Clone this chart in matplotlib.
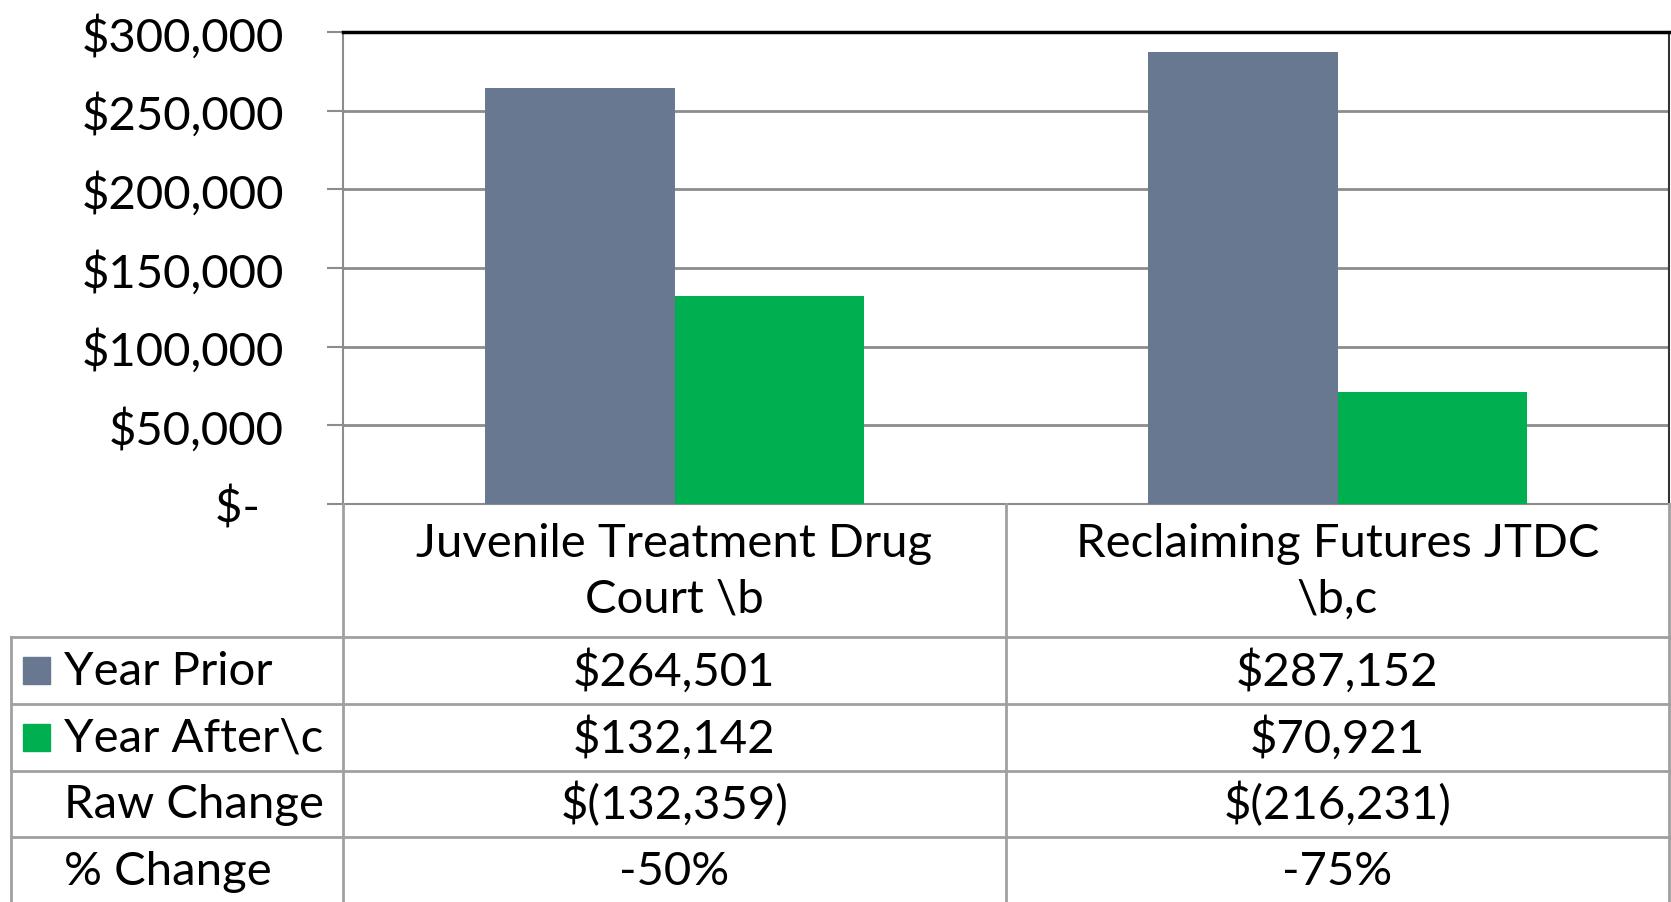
import matplotlib
matplotlib.use('Agg')
import matplotlib.pyplot as plt
from matplotlib.patches import Rectangle
from matplotlib.ticker import FuncFormatter, MultipleLocator

# data
categories = ['Juvenile Treatment Drug\nCourt \\b', 'Reclaiming Futures JTDC\n\\b,c']
series_names = ['Year Prior', 'Year After\\c']
year_prior = [264501, 287152]
year_after = [132142, 70921]
raw_change = [-132359, -216231]
pct_change = [-0.50, -0.75]
extra_rows = ['Raw Change', '% Change']

colors = ['#687890', '#00B050']
grid_color = '#8C8C8C'
table_color = '#A0A0A0'

plt.rcParams['font.family'] = ['Lato', 'DejaVu Sans']
FS = 34

W, H = 1671, 903
fig = plt.figure(figsize=(W / 100, H / 100), dpi=100)

# plot area in pixels: left 343, right 1669, top 33, bottom 505
ax = fig.add_axes([343 / W, 1 - 505 / H, (1669 - 343) / W, (505 - 33) / H])
bw = 1 / 3.5  # gap width 150%
xs = range(len(categories))
ax.bar([x - bw / 2 for x in xs], year_prior, bw, color=colors[0], zorder=3)
ax.bar([x + bw / 2 for x in xs], year_after, bw, color=colors[1], zorder=3)
ax.set_xlim(-0.5, len(categories) - 0.5)
ax.set_ylim(0, 300000)
ax.yaxis.set_major_locator(MultipleLocator(50000))
ax.yaxis.set_major_formatter(FuncFormatter(
    lambda v, p: '$-  ' if v == 0 else f'${v:,.0f}'))
ax.set_xticks([])
ax.grid(axis='y', color=grid_color, linewidth=2, zorder=0)
ax.tick_params(axis='y', labelsize=FS, length=11.5, width=1.5,
               color=grid_color, pad=31)
for s in ['left', 'bottom']:
    ax.spines[s].set_color(grid_color)
    ax.spines[s].set_linewidth(1.5)
ax.spines['top'].set_color('black')
ax.spines['top'].set_linewidth(2.5)
ax.spines['right'].set_color('#333333')
ax.spines['right'].set_linewidth(1.5)

# data table below the plot, x shares the category scale
at = fig.add_axes([11 / W, 1 - 905 / H, (1669 - 11) / W, 400 / H])
at.set_xlim(-1, len(categories) - 0.5)
at.set_ylim(6, 0)
at.axis('off')

lw = 2
for y in [2, 3, 4, 5]:
    at.plot([-1, len(categories) - 0.5], [y, y], color=table_color, lw=lw, clip_on=False)
for x in [-0.5, 0.5, 1.5]:
    at.plot([x, x], [0, 6], color=table_color, lw=lw, clip_on=False)
at.plot([-1, -1], [2, 6], color=table_color, lw=lw, clip_on=False)

for i, cat in enumerate(categories):
    at.text(i, 1, cat, ha='center', va='center', fontsize=FS, linespacing=1.4)

label_x = -0.92
key_x = -0.982
key_w = 0.041
key_h = 0.40
rows = [
    (series_names[0], [f'${v:,}' for v in year_prior], colors[0]),
    (series_names[1], [f'${v:,}' for v in year_after], colors[1]),
    (extra_rows[0], [f'$({-v:,})' for v in raw_change], None),
    (extra_rows[1], [f'{v:.0%}' for v in pct_change], None),
]
for r, (name, vals, col) in enumerate(rows):
    yc = 2.5 + r
    if col:
        at.add_patch(Rectangle((key_x, yc - key_h / 2), key_w, key_h,
                               color=col, clip_on=False))
    at.text(label_x, yc, name, ha='left', va='center', fontsize=FS)
    for i, v in enumerate(vals):
        at.text(i, yc, v, ha='center', va='center', fontsize=FS)

fig.savefig('out.png', dpi=100)
